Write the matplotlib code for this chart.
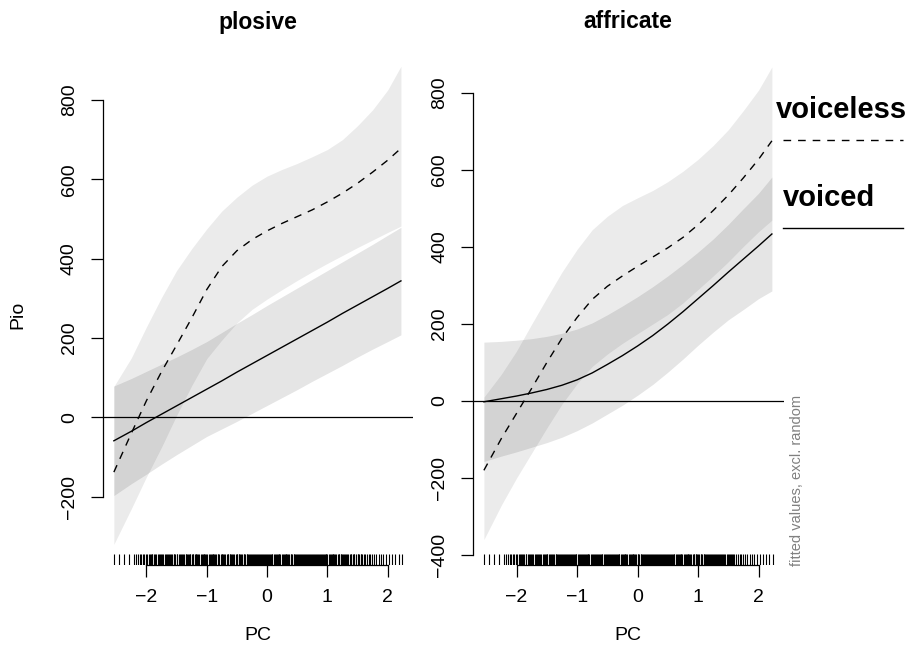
import numpy as np
import matplotlib
matplotlib.use('Agg')
import matplotlib.pyplot as plt
from matplotlib.lines import Line2D
from matplotlib.transforms import blended_transform_factory

plt.rcParams['font.family'] = ['Liberation Sans', 'DejaVu Sans']

pc = [-2.54, -2.25, -2.0, -1.75, -1.5, -1.25, -1.0, -0.75, -0.5, -0.25,
      0.0, 0.25, 0.5, 0.75, 1.0, 1.25, 1.5, 1.75, 2.0, 2.22]

# plosive
plo_vl_fit = [-138, -40, 42, 115, 182, 250, 322, 380, 420, 448,
              470, 489, 506, 523, 543, 565, 590, 618, 648, 678]
plo_vl_hi = [78, 150, 228, 302, 370, 425, 475, 520, 555, 585,
             608, 625, 640, 657, 675, 700, 735, 775, 825, 885]
plo_vl_lo = [-320, -230, -150, -75, 5, 80, 148, 195, 238, 272,
             298, 322, 345, 367, 388, 408, 428, 447, 466, 482]
plo_vd_fit = [-59, -35, -13, 8, 29, 50, 71, 92, 114, 135,
              156, 177, 198, 219, 240, 262, 283, 304, 325, 344]
plo_vd_hi = [79, 98, 116, 134, 152, 171, 191, 214, 237, 259,
             282, 304, 326, 348, 370, 392, 414, 436, 459, 479]
plo_vd_lo = [-197, -167, -143, -118, -94, -71, -48, -29, -10, 10,
             30, 50, 70, 91, 111, 131, 152, 172, 191, 208]

# affricate
aff_vl_fit = [-180, -97, -32, 33, 100, 163, 217, 264, 298, 325,
              350, 374, 398, 425, 458, 495, 535, 580, 628, 676]
aff_vl_hi = [10, 70, 130, 200, 268, 335, 394, 445, 480, 508,
             528, 547, 570, 597, 628, 664, 705, 755, 808, 868]
aff_vl_lo = [-360, -270, -200, -135, -70, -8, 45, 90, 122, 150,
             175, 200, 225, 255, 290, 325, 362, 402, 440, 470]
aff_vd_fit = [-2, 6, 13, 21, 30, 41, 55, 73, 95, 118,
              143, 170, 200, 232, 266, 300, 335, 369, 403, 434]
aff_vd_hi = [153, 155, 158, 162, 168, 176, 187, 203, 224, 247,
             271, 297, 325, 355, 387, 421, 459, 500, 540, 582]
aff_vd_lo = [-157, -143, -132, -120, -108, -94, -77, -57, -34, -11,
             15, 43, 75, 109, 145, 179, 211, 238, 266, 286]

# observed PC values (rug)
rug_pc = [-2.53, -2.45, -2.37, -2.29, -2.21, -2.17, -2.14, -2.11, -2.09, -2.06, -2.04, -2.01,
          -1.99, -1.96, -1.94, -1.93, -1.90, -1.88, -1.85, -1.84, -1.81, -1.79, -1.76, -1.74,
          -1.73, -1.70, -1.68, -1.66, -1.63, -1.61, -1.60, -1.57, -1.55, -1.52, -1.50, -1.49,
          -1.46, -1.44, -1.41, -1.40, -1.38, -1.35, -1.33, -1.31, -1.28, -1.27, -1.25, -1.22,
          -1.20, -1.18, -1.17, -1.14, -1.12, -1.10, -1.07, -1.05, -1.04, -1.01, -0.99, -0.97,
          -0.95, -0.92, -0.90, -0.89, -0.86, -0.84, -0.82, -0.80, -0.77, -0.75, -0.74, -0.71,
          -0.69, -0.67, -0.64, -0.62, -0.61, -0.58, -0.56, -0.54, -0.52, -0.49, -0.47, -0.46,
          -0.43, -0.41, -0.39, -0.36, -0.34, -0.33, -0.30, -0.28, -0.26, -0.23, -0.21, -0.20,
          -0.17, -0.15, -0.13, -0.10, -0.08, -0.07, -0.04, -0.02, 0.00, 0.03, 0.05, 0.06,
          0.09, 0.11, 0.13, 0.16, 0.18, 0.19, 0.22, 0.24, 0.26, 0.29, 0.31, 0.32,
          0.35, 0.37, 0.39, 0.42, 0.44, 0.45, 0.48, 0.50, 0.52, 0.55, 0.57, 0.58,
          0.61, 0.63, 0.65, 0.68, 0.70, 0.71, 0.74, 0.76, 0.78, 0.81, 0.83, 0.84,
          0.87, 0.89, 0.91, 0.94, 0.96, 0.97, 1.00, 1.02, 1.04, 1.07, 1.09, 1.10,
          1.13, 1.15, 1.17, 1.20, 1.22, 1.23, 1.26, 1.28, 1.30, 1.33, 1.35, 1.37,
          1.40, 1.42, 1.45, 1.47, 1.50, 1.52, 1.55, 1.58, 1.60, 1.63, 1.66, 1.69,
          1.71, 1.74, 1.78, 1.81, 1.85, 1.89, 1.93, 1.97, 2.02, 2.07, 2.12, 2.18, 2.23,
          -1.915, -1.775, -1.645, -1.535, -1.425, -1.345, -1.295, -1.235, -1.155, -1.085,
          -1.025, -0.935, -0.875, -0.815, -0.725, -0.655, -0.595, -0.505, -0.445, -0.375,
          -0.315, -0.245, -0.185, -0.115, -0.055, 0.015, 0.075, 0.145, 0.205, 0.275,
          0.335, 0.405, 0.465, 0.535, 0.595, 0.665, 0.725, 0.795, 0.855, 0.925,
          0.985, 1.055, 1.115, 1.185, 1.245, 1.315, 1.385, 1.435, 1.515, 1.565]

x_ticks = [-2, -1, 0, 1, 2]
W, H = 910, 657
DASH = (5.5, 5.0)


def px(x, y):
    return x / W, 1 - y / H


def panel(ax, vl, vd, ylim, yticks, title, title_x):
    ax.fill_between(pc, vl[2], vl[1], color='black', alpha=0.08, lw=0)
    ax.fill_between(pc, vd[2], vd[1], color='black', alpha=0.10, lw=0)
    ax.plot(pc, vl[0], color='black', lw=1.0, dashes=DASH)
    ax.plot(pc, vd[0], color='black', lw=1.0)
    ax.axhline(0, color='black', lw=0.9)
    tr = blended_transform_factory(ax.transData, ax.transAxes)
    ax.vlines(rug_pc, 0, 0.022, transform=tr, color='black', lw=0.8)
    ax.set_xlim(-2.72, 2.42)
    ax.set_ylim(*ylim)
    ax.set_xticks(x_ticks)
    ax.set_xticklabels([str(t).replace('-', '\u2212') for t in x_ticks])
    ax.set_yticks(yticks)
    ax.set_yticklabels([str(t).replace('-', '\u2212') for t in yticks])
    ax.spines['top'].set_visible(False)
    ax.spines['right'].set_visible(False)
    ax.spines['left'].set_bounds(yticks[0], yticks[-1])
    ax.spines['bottom'].set_bounds(x_ticks[0], x_ticks[-1])
    for s in ('left', 'bottom'):
        ax.spines[s].set_linewidth(0.9)
    ax.tick_params(axis='both', direction='out', length=8.5, width=0.9, labelsize=14)
    ax.tick_params(axis='y', labelrotation=90, pad=9.5)
    ax.tick_params(axis='x', pad=9)
    for lab in ax.get_yticklabels():
        lab.set_va('center')
    ax.patch.set_visible(False)
    fig.text(*px(title_x, 22), title, fontsize=16.5, fontweight='bold', ha='center', va='center')
    fig.text(*px(title_x, 636), 'PC', fontsize=14, ha='center', va='center')


fig = plt.figure(figsize=(W / 100, H / 100), dpi=100)
ax1 = fig.add_axes([103 / W, 92 / H, 310 / W, 500 / H])
ax2 = fig.add_axes([473 / W, 92 / H, 311 / W, 500 / H])

panel(ax1, (plo_vl_fit, plo_vl_hi, plo_vl_lo), (plo_vd_fit, plo_vd_hi, plo_vd_lo),
      (-372, 888), [-200, 0, 200, 400, 600, 800], 'plosive', 258)
panel(ax2, (aff_vl_fit, aff_vl_hi, aff_vl_lo), (aff_vd_fit, aff_vd_hi, aff_vd_lo),
      (-426, 873), [-400, -200, 0, 200, 400, 600, 800], 'affricate', 628)

fig.text(*px(18, 315), 'Pio', fontsize=14, rotation=90, ha='center', va='center')
fig.text(*px(797, 480), 'fitted values, excl. random', fontsize=10.5, color='#808080',
         rotation=90, ha='center', va='center')

# legend on the right
fig.text(*px(776, 110), 'voiceless', fontsize=21, fontweight='bold', ha='left', va='center')
fig.text(*px(783, 198), 'voiced', fontsize=21, fontweight='bold', ha='left', va='center')
fig.add_artist(Line2D([783 / W, 903 / W], [1 - 140 / H, 1 - 140 / H], transform=fig.transFigure,
                      color='black', lw=1.0, dashes=DASH))
fig.add_artist(Line2D([783 / W, 903 / W], [1 - 228 / H, 1 - 228 / H], transform=fig.transFigure,
                      color='black', lw=1.0))

fig.savefig('out.png', dpi=100)
